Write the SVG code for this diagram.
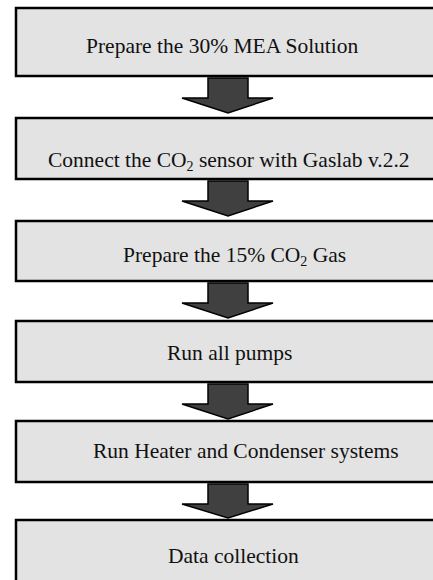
<svg xmlns="http://www.w3.org/2000/svg" width="433" height="580" viewBox="0 0 433 580">
<style>
.box{fill:#e3e3e3;stroke:#000;stroke-width:2.5}
.t{font-family:"Liberation Serif","Times New Roman",serif;font-size:21.5px;fill:#111}
.arr{fill:#404040;stroke:#000;stroke-width:1.5;stroke-linejoin:miter}
</style>
<rect width="433" height="580" fill="#fff"/>
<g id="n1"><rect class="box" x="16" y="8" width="430" height="68"/><text class="t" x="86" y="53">Prepare the 30% MEA Solution</text></g>
<g id="n2"><rect class="box" x="16" y="118" width="430" height="61"/><text class="t" x="48" y="167">Connect the CO<tspan font-size="14" dy="4">2</tspan><tspan dy="-4"> sensor with Gaslab v.2.2</tspan></text></g>
<g id="n3"><rect class="box" x="16" y="221" width="430" height="60"/><text class="t" x="123" y="262">Prepare the 15% CO<tspan font-size="14" dy="4">2</tspan><tspan dy="-4"> Gas</tspan></text></g>
<g id="n4"><rect class="box" x="16" y="321" width="430" height="61"/><text class="t" x="167" y="360">Run all pumps</text></g>
<g id="n5"><rect class="box" x="16" y="421" width="430" height="61"/><text class="t" x="93" y="458">Run Heater and Condenser systems</text></g>
<g id="n6"><rect class="box" x="16" y="520" width="430" height="80"/><text class="t" x="168" y="563">Data collection</text></g>
<g id="connectors">
<path class="arr" d="M208,78 H248 V98 H273 L228,113 L182,98 H208 Z"/>
<path class="arr" d="M208,181 H248 V201 H273 L228,216 L182,201 H208 Z"/>
<path class="arr" d="M208,283 H248 V303 H273 L228,318 L182,303 H208 Z"/>
<path class="arr" d="M208,384 H248 V404 H273 L228,419 L182,404 H208 Z"/>
<path class="arr" d="M208,484 H248 V504 H273 L228,518 L182,504 H208 Z"/>
</g>
</svg>
